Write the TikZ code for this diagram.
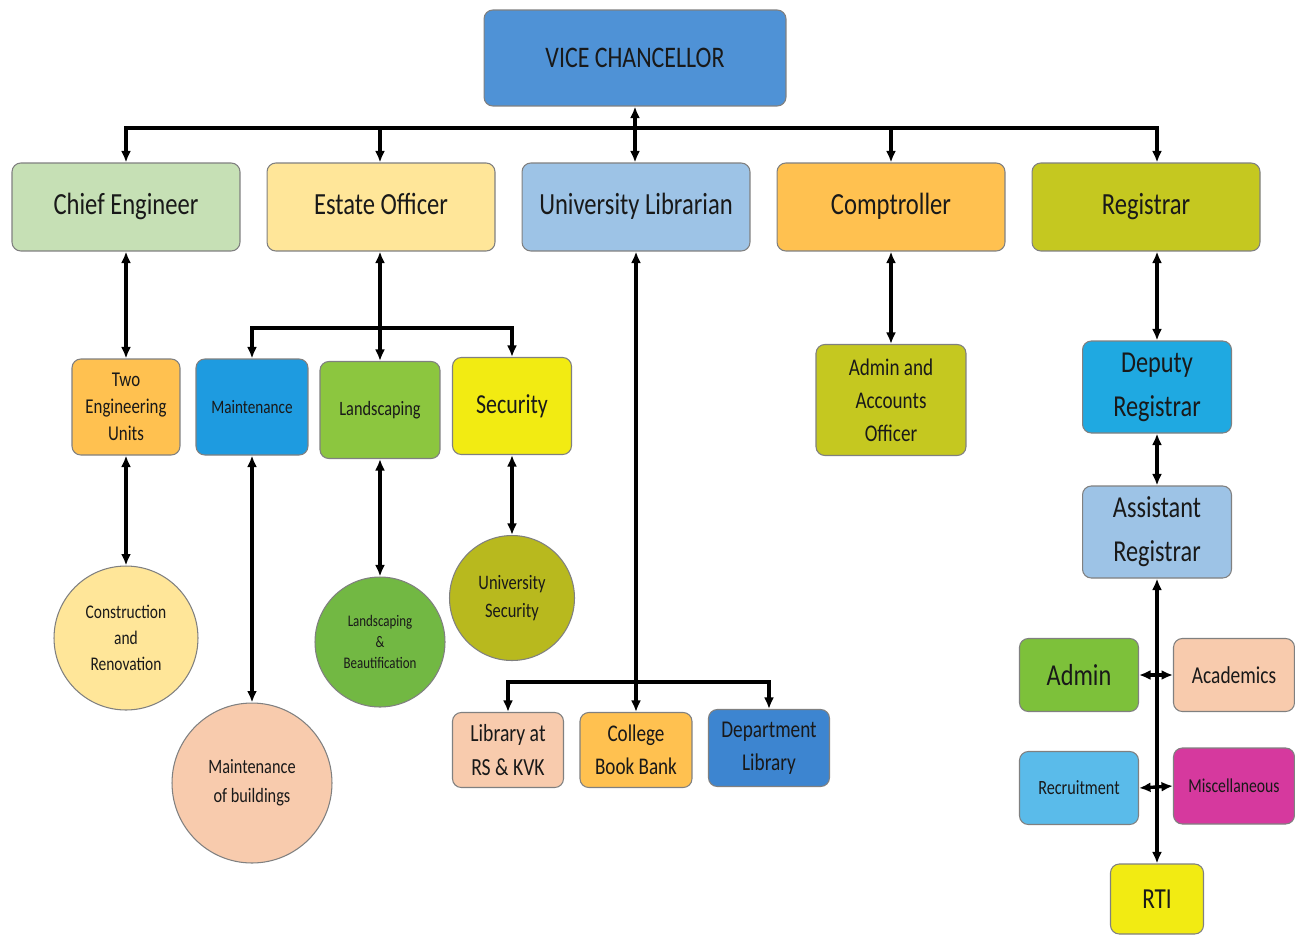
\documentclass[tikz,border=0pt]{standalone}
\usepackage{fontspec}
\setmainfont{Carlito}[FakeStretch=0.8]
\usepackage{xcolor}
\usetikzlibrary{arrows.meta,positioning}

\definecolor{vcblue}{HTML}{4F92D6}
\definecolor{cegreen}{HTML}{C6E0B5}
\definecolor{eoyellow}{HTML}{FFE699}
\definecolor{ulblue}{HTML}{9DC3E6}
\definecolor{coorange}{HTML}{FFC150}
\definecolor{regolive}{HTML}{C5C820}
\definecolor{mtblue}{HTML}{1E9BE0}
\definecolor{lsgreen}{HTML}{8CC63F}
\definecolor{secyellow}{HTML}{F2EB12}
\definecolor{peach}{HTML}{F8CBAD}
\definecolor{lbgreen}{HTML}{72B843}
\definecolor{usolive}{HTML}{B8B91E}
\definecolor{dlblue}{HTML}{3D85D0}
\definecolor{drblue}{HTML}{1FA9E1}
\definecolor{admgreen}{HTML}{7DC13A}
\definecolor{recblue}{HTML}{5ABBEA}
\definecolor{miscpink}{HTML}{D6399E}

\begin{document}
\begin{tikzpicture}[
  x=0.02cm, y=-0.02cm,
  fnt/.style 2 args={font=\fontsize{#1}{#2}\selectfont},
  bx/.style={draw=black!50, line width=0.6pt, rounded corners=5pt, align=center,
    inner sep=1pt, text=black!90},
  cir/.style={circle, draw=black!50, line width=0.6pt, align=center,
    inner sep=0pt, text=black!90},
  head/.style={bx, fnt={17.5}{21}, minimum width=4.56cm, minimum height=1.76cm,
    text height=12pt, text depth=4pt},
  arr/.style={{Latex[length=2.3mm,width=2mm]}-{Latex[length=2.3mm,width=2mm]}, line width=1.9pt},
  dn/.style={-{Latex[length=2.3mm,width=2mm]}, line width=1.9pt},
  bus/.style={line width=2.2pt, line cap=rect}
]
\fill[white] (0,0) rectangle (1295,934);
\useasboundingbox (0,0) rectangle (1295,934);

% top
\node[bx, fnt={17}{20}, fill=vcblue, minimum width=6.04cm, minimum height=1.92cm] (vc) at (635,58) {VICE CHANCELLOR};

% second row
\node[head, fill=cegreen] (ce) at (126,207) {Chief Engineer};
\node[head, fill=eoyellow, right=5.2mm of ce] (eo) {Estate Officer};
\node[head, fill=ulblue, right=5.2mm of eo] (ul) {University Librarian};
\node[head, fill=coorange, right=5.2mm of ul] (co) {Comptroller};
\node[head, fill=regolive, right=5.2mm of co] (reg) {Registrar};

% chief engineer / estate officer
\node[bx, fnt={12}{15.5}, fill=coorange, minimum width=2.16cm, minimum height=1.92cm] (teu) at (126,407) {Two\\Engineering\\Units};
\node[bx, fnt={10.8}{13}, fill=mtblue, minimum width=2.24cm, minimum height=1.92cm] (mt) at (252,407) {Maintenance};
\node[bx, fnt={11.6}{14}, fill=lsgreen, minimum width=2.4cm, minimum height=1.94cm] (ls) at (380,410) {Landscaping};
\node[bx, fnt={15.6}{18}, fill=secyellow, minimum width=2.38cm, minimum height=1.94cm] (sec) at (512,406) {Security};

\node[cir, fnt={11}{14.7}, fill=eoyellow, minimum size=2.88cm] (con) at (126,638) {Construction\\and\\Renovation};
\node[cir, fnt={11.6}{16.4}, fill=peach, minimum size=3.2cm] (mob) at (252,783) {Maintenance\\of buildings};
\node[cir, fnt={9.2}{12}, fill=lbgreen, minimum size=2.6cm] (lb) at (380,642) {Landscaping\\\&\\Beautification};
\node[cir, fnt={11.7}{16}, fill=usolive, minimum size=2.5cm] (us) at (512,598) {University\\Security};

% library
\node[bx, fnt={14}{19}, fill=peach, minimum width=2.22cm, minimum height=1.5cm] (lrs) at (508,750) {Library at\\RS \& KVK};
\node[bx, fnt={13.6}{19}, fill=coorange, minimum width=2.24cm, minimum height=1.5cm] (cbb) at (636,750) {College\\Book Bank};
\node[bx, fnt={13.7}{19}, fill=dlblue, minimum width=2.42cm, minimum height=1.54cm] (dl) at (769,748) {Department\\Library};

% comptroller
\node[bx, fnt={13.6}{18.7}, fill=regolive, minimum width=3cm, minimum height=2.22cm] (aao) at (891,400) {Admin and\\Accounts\\Officer};

% registrar
\node[bx, fnt={17.3}{25}, fill=drblue, minimum width=2.98cm, minimum height=1.84cm] (dr) at (1157,387) {Deputy\\Registrar};
\node[bx, fnt={17.3}{25}, fill=ulblue, minimum width=2.98cm, minimum height=1.84cm] (ar) at (1157,532) {Assistant\\Registrar};
\node[bx, fnt={17.3}{20}, fill=admgreen, minimum width=2.38cm, minimum height=1.46cm] (adm) at (1079,675) {Admin};
\node[bx, fnt={13.8}{16}, fill=peach, minimum width=2.42cm, minimum height=1.46cm] (acad) at (1234,675) {Academics};
\node[bx, fnt={11.5}{14}, fill=recblue, minimum width=2.38cm, minimum height=1.46cm] (rec) at (1079,788) {Recruitment};
\node[bx, fnt={11.2}{14}, fill=miscpink, minimum width=2.42cm, minimum height=1.52cm] (misc) at (1234,786) {Miscellaneous};
\node[bx, fnt={16.5}{19}, fill=secyellow, minimum width=1.86cm, minimum height=1.4cm] (rti) at (1157,899) {RTI};

% buses
\coordinate (vcbus) at (635,128);
\coordinate (eobus) at (380,328);
\coordinate (libbus) at (636,682);
\draw[bus] (vcbus -| ce.north) -- (vcbus -| dr.north);
\draw[bus] (eobus -| mt.north) -- (eobus -| sec.north);
\draw[bus] (libbus -| lrs.north) -- (libbus -| dl.north);

% connectors
\draw[arr] (vc.south) -- (vc.south |- ul.north);
\draw[dn] (vcbus -| ce.north) -- (ce.north);
\draw[dn] (vcbus -| ls.north) -- (ls.north |- eo.north);
\draw[dn] (vcbus -| aao.north) -- (aao.north |- co.north);
\draw[dn] (vcbus -| dr.north) -- (dr.north |- reg.north);

\draw[arr] (ce.south) -- (teu.north);
\draw[arr] (teu.south) -- (con.north);
\draw[arr] (ls.north |- eo.south) -- (ls.north);
\draw[dn] (eobus -| mt.north) -- (mt.north);
\draw[dn] (eobus -| sec.north) -- (sec.north);
\draw[arr] (mt.south) -- (mob.north);
\draw[arr] (ls.south) -- (lb.north);
\draw[arr] (sec.south) -- (us.north);

\draw[arr] (cbb.north |- ul.south) -- (cbb.north);
\draw[dn] (libbus -| lrs.north) -- (lrs.north);
\draw[dn] (libbus -| dl.north) -- (dl.north);

\draw[arr] (aao.north |- co.south) -- (aao.north);

\draw[arr] (dr.north |- reg.south) -- (dr.north);
\draw[arr] (dr.south) -- (ar.north);
\draw[arr] (ar.south) -- (rti.north);
\draw[arr] (adm.east) -- (acad.west);
\draw[arr] (rec.east) -- (misc.west);
\end{tikzpicture}
\end{document}
